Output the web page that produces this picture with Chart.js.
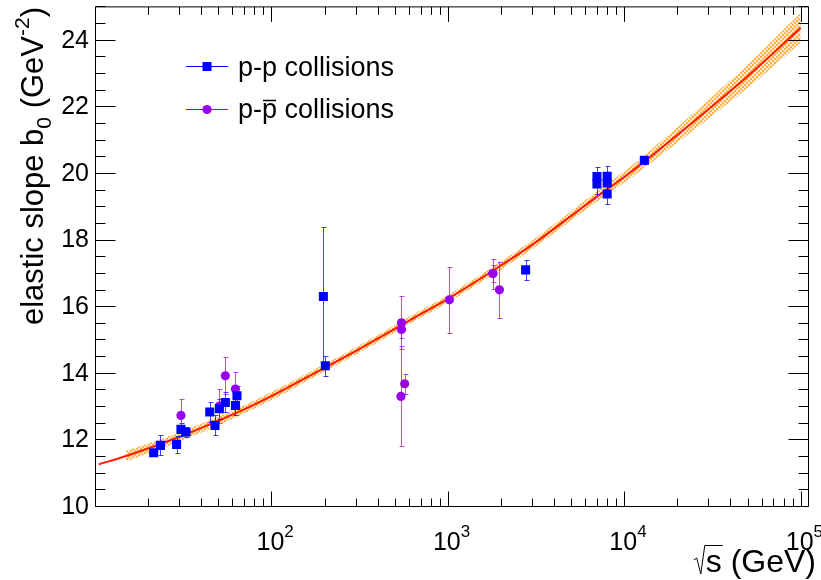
<!DOCTYPE html>
<html>
<head>
<meta charset="utf-8">
<script src="https://cdn.jsdelivr.net/npm/chart.js@4.4.0/dist/chart.umd.min.js"></script>
<style>
  html, body { margin: 0; padding: 0; background: #fff; }
  #wrap { width: 821px; height: 580px; }
</style>
</head>
<body>
<div id="wrap"><canvas id="chart" width="821" height="580"></canvas></div>
<script>
// p-p collisions: sqrt(s) [GeV], elastic slope b0 [GeV^-2], error
var ppEnergy = [21.5, 23.5, 29, 30.7, 32.8, 44.7, 47.9, 50.7, 54.8, 62.5, 63.8, 197, 202, 2760, 7000, 7000, 8000, 8000, 8000, 13000]
var ppSlope  = [11.60, 11.82, 11.85, 12.30, 12.22, 12.82, 12.42, 12.92, 13.11, 13.02, 13.31, 16.29, 14.21, 17.09, 19.89, 19.67, 19.90, 19.70, 19.37, 20.38]
var ppError  = [0.1, 0.3, 0.25, 0.2, 0.15, 0.3, 0.3, 0.3, 0.3, 0.3, 0.3, 2.1, 0.3, 0.3, 0.3, 0.3, 0.3, 0.3, 0.3, 0.1]

// p-pbar collisions
var pbarEnergy = [30.7, 50.7, 54.8, 62.5, 546, 546, 569, 542, 1020, 1800, 1800, 1960]
var pbarSlope  = [12.72, 13.0, 13.91, 13.51, 15.50, 15.30, 13.67, 13.29, 16.19, 16.98, 16.98, 16.49]
var pbarError  = [0.5, 0.5, 0.55, 0.5, 0.8, 0.25, 0.3, 1.5, 1.0, 0.45, 0.25, 0.85]

// fitted curve and its uncertainty band
var fitEnergy = [10.5, 15, 20, 30, 50, 70, 100, 200, 300, 500, 700, 1000, 2000, 3000, 5000, 7000, 10000, 13000, 20000, 30000, 50000, 70000, 100000]
var fitSlope  = [11.25, 11.50, 11.73, 12.07, 12.56, 12.90, 13.30, 14.15, 14.65, 15.32, 15.76, 16.22, 17.22, 17.84, 18.71, 19.29, 19.88, 20.34, 21.14, 21.91, 22.90, 23.60, 24.36]
var fitBand   = [null, 0.16, 0.15, 0.14, 0.13, 0.12, 0.12, 0.11, 0.11, 0.11, 0.11, 0.11, 0.12, 0.13, 0.14, 0.15, 0.17, 0.19, 0.23, 0.28, 0.35, 0.4, 0.45]

var yTicks     = [10, 12, 14, 16, 18, 20, 22, 24]
var xDecades   = [2, 3, 4, 5]
var legendText = ['p-p collisions', 'collisions']

var
    FONT   = '"Liberation Sans", Arial, sans-serif'
  , BLUE   = '#0000ff'
  , PURPLE = '#9900f0'

function toPoints(xs, ys) {
  var out = []
  for (var i = 0; i < xs.length; i++) out.push({ x: xs[i], y: ys[i] })
  return out
}

function bandPoints(sign) {
  var out = []
  for (var i = 0; i < fitEnergy.length; i++) {
    if (fitBand[i] === null) continue
    out.push({ x: fitEnergy[i], y: fitSlope[i] + sign * fitBand[i] })
  }
  return out
}

// dotted orange fill, like the root hatch style
function makeHatch() {
  var c = document.createElement('canvas'), g
  c.width = 4; c.height = 4
  g = c.getContext('2d')
  g.fillStyle = 'rgba(255,200,120,0.35)'
  g.fillRect(0, 0, 4, 4)
  g.fillStyle = 'rgba(255,165,40,0.8)'
  g.fillRect(0, 0, 2, 2)
  g.fillRect(2, 2, 2, 2)
  return g.createPattern(c, 'repeat')
}

function drawErrors(chart, xs, ys, errs, color) {
  var ctx = chart.ctx, sx = chart.scales.x, sy = chart.scales.y
  ctx.save()
  ctx.strokeStyle = color
  ctx.lineWidth = 1
  for (var i = 0; i < xs.length; i++) {
    var
        px  = Math.round(sx.getPixelForValue(xs[i])) + 0.5
      , top = Math.round(sy.getPixelForValue(ys[i] + errs[i])) + 0.5
      , bot = Math.round(sy.getPixelForValue(ys[i] - errs[i])) + 0.5
    ctx.beginPath()
    ctx.moveTo(px, top); ctx.lineTo(px, bot)
    ctx.moveTo(px - 2, top); ctx.lineTo(px + 3, top)
    ctx.moveTo(px - 2, bot); ctx.lineTo(px + 3, bot)
    ctx.stroke()
  }
  ctx.restore()
}

// draws text pieces [text, size, dy] one after another, returns width
function drawPieces(ctx, pieces, x, y, measureOnly) {
  var w = 0
  for (var i = 0; i < pieces.length; i++) {
    ctx.font = pieces[i][1] + 'px ' + FONT
    if (!measureOnly) ctx.fillText(pieces[i][0], x + w, y + pieces[i][2])
    w += ctx.measureText(pieces[i][0]).width
  }
  return w
}

var rootFrame = {
  id: 'rootFrame',
  afterDatasetDraw: function (chart, args) {
    if (args.index !== 2) return
    drawErrors(chart, ppEnergy, ppSlope, ppError, 'rgba(0,0,255,0.75)')
    drawErrors(chart, pbarEnergy, pbarSlope, pbarError, 'rgba(150,0,255,0.7)')
  },
  afterDraw: function (chart) {
    var
        ctx = chart.ctx
      , a   = chart.chartArea
      , sx  = chart.scales.x
      , sy  = chart.scales.y
      , L = a.left + 0.5, R = a.right + 0.5, T = a.top + 0.5, B = a.bottom + 0.5

    ctx.save()
    ctx.strokeStyle = '#000'
    ctx.lineWidth = 1
    ctx.beginPath()
    ctx.rect(L, T, R - L, B - T)

    // y ticks, both sides
    for (var v = 10; v <= 25.001; v += 0.5) {
      var py = Math.round(sy.getPixelForValue(v)) + 0.5
        , len = (v % 2 === 0) ? 20 : 10
      ctx.moveTo(L, py); ctx.lineTo(L + len, py)
      ctx.moveTo(R, py); ctx.lineTo(R - len, py)
    }
    // x ticks, log, top and bottom
    for (var e = 1; e <= 5; e++) {
      for (var k = 1; k <= 9; k++) {
        var val = k * Math.pow(10, e)
        if (val < sx.min || val > sx.max) continue
        var px = Math.round(sx.getPixelForValue(val)) + 0.5
          , tl = (k === 1) ? 15 : 8
        ctx.moveTo(px, B); ctx.lineTo(px, B - tl)
        ctx.moveTo(px, T); ctx.lineTo(px, T + tl)
      }
    }
    ctx.stroke()

    ctx.fillStyle = '#000'
    // y labels
    ctx.font = '25px ' + FONT
    ctx.textAlign = 'right'
    ctx.textBaseline = 'middle'
    for (var i = 0; i < yTicks.length; i++) {
      ctx.fillText(String(yTicks[i]), 89, sy.getPixelForValue(yTicks[i]) + 1)
    }
    // x labels 10^n
    ctx.textAlign = 'left'
    ctx.textBaseline = 'alphabetic'
    for (var j = 0; j < xDecades.length; j++) {
      var cx = sx.getPixelForValue(Math.pow(10, xDecades[j]))
      ctx.font = '25px ' + FONT
      var w10 = ctx.measureText('10').width
      drawPieces(ctx, [['10', 25, 0], [String(xDecades[j]), 17, -13]], cx - w10 / 2 - 1, 550)
    }

    // x title with radical
    var sTitle = [['s', 32, 0], [' (GeV)', 32, 0]]
      , tw = drawPieces(ctx, sTitle, 0, 0, true)
      , x0 = 816 - tw
    drawPieces(ctx, sTitle, x0, 572)
    ctx.font = '32px ' + FONT
    var sw = ctx.measureText('s').width
    ctx.beginPath()
    ctx.moveTo(x0 - 12, 560); ctx.lineTo(x0 - 9, 558)
    ctx.lineTo(x0 - 5, 574); ctx.lineTo(x0 - 1, 545.5); ctx.lineTo(x0 + sw + 1, 545.5)
    ctx.stroke()

    // y title, rotated
    var yTitle = [['elastic slope b', 31, 0], ['0', 21, 8], [' (GeV', 31, 0], ['-2', 21, -14], [')', 31, 0]]
      , yw = drawPieces(ctx, yTitle, 0, 0, true)
    ctx.save()
    ctx.translate(43, 7)
    ctx.rotate(-Math.PI / 2)
    drawPieces(ctx, yTitle, -yw, 0)
    ctx.restore()

    // legend
    ctx.lineWidth = 1
    ctx.strokeStyle = BLUE
    ctx.beginPath(); ctx.moveTo(186, 66.5); ctx.lineTo(228, 66.5); ctx.stroke()
    ctx.fillStyle = BLUE
    ctx.fillRect(202.5, 62, 9, 9)
    ctx.strokeStyle = PURPLE
    ctx.beginPath(); ctx.moveTo(186, 109.5); ctx.lineTo(228, 109.5); ctx.stroke()
    ctx.fillStyle = PURPLE
    ctx.beginPath(); ctx.arc(207, 109.5, 4.6, 0, Math.PI * 2); ctx.fill()

    ctx.fillStyle = '#000'
    ctx.font = '27px ' + FONT
    ctx.fillText(legendText[0], 238, 76)
    var wp = ctx.measureText('p-').width
      , wq = ctx.measureText('p').width
    ctx.fillText('p-p ' + legendText[1], 238, 118)
    ctx.beginPath()
    ctx.strokeStyle = '#000'
    ctx.lineWidth = 1.5
    ctx.moveTo(238 + wp + 1, 100.5); ctx.lineTo(238 + wp + wq - 1, 100.5)
    ctx.stroke()
    ctx.restore()
  }
}

new Chart(document.getElementById('chart'), {
  type: 'scatter',
  data: {
    datasets: [
        { data: toPoints(ppEnergy, ppSlope), pointStyle: 'rect', pointRadius: 6.4, pointBorderWidth: 0,
          pointBackgroundColor: BLUE, backgroundColor: BLUE, borderColor: BLUE, showLine: false }
      , { data: toPoints(pbarEnergy, pbarSlope), pointStyle: 'circle', pointRadius: 4.6, pointBorderWidth: 0,
          pointBackgroundColor: PURPLE, backgroundColor: PURPLE, borderColor: PURPLE, showLine: false }
      , { data: toPoints(fitEnergy, fitSlope), showLine: true, borderColor: '#ff1a00', borderWidth: 2,
          pointRadius: 0, fill: false, cubicInterpolationMode: 'monotone' }
      , { data: bandPoints(1), showLine: true, borderColor: 'transparent', borderWidth: 0, pointRadius: 0,
          fill: '+1', backgroundColor: makeHatch(), cubicInterpolationMode: 'monotone' }
      , { data: bandPoints(-1), showLine: true, borderColor: 'transparent', borderWidth: 0, pointRadius: 0,
          fill: false, cubicInterpolationMode: 'monotone' }
    ]
  },
  options: {
    responsive: false,
    animation: false,
    devicePixelRatio: 1,
    events: [],
    layout: { padding: { left: 95, top: 3, right: 13, bottom: 74 } },
    scales: {
      x: { type: 'logarithmic', min: 10, max: 110000, display: false },
      y: { type: 'linear', min: 10, max: 25, display: false }
    },
    plugins: { legend: { display: false }, tooltip: { enabled: false } }
  },
  plugins: [rootFrame]
})
</script>
</body>
</html>
